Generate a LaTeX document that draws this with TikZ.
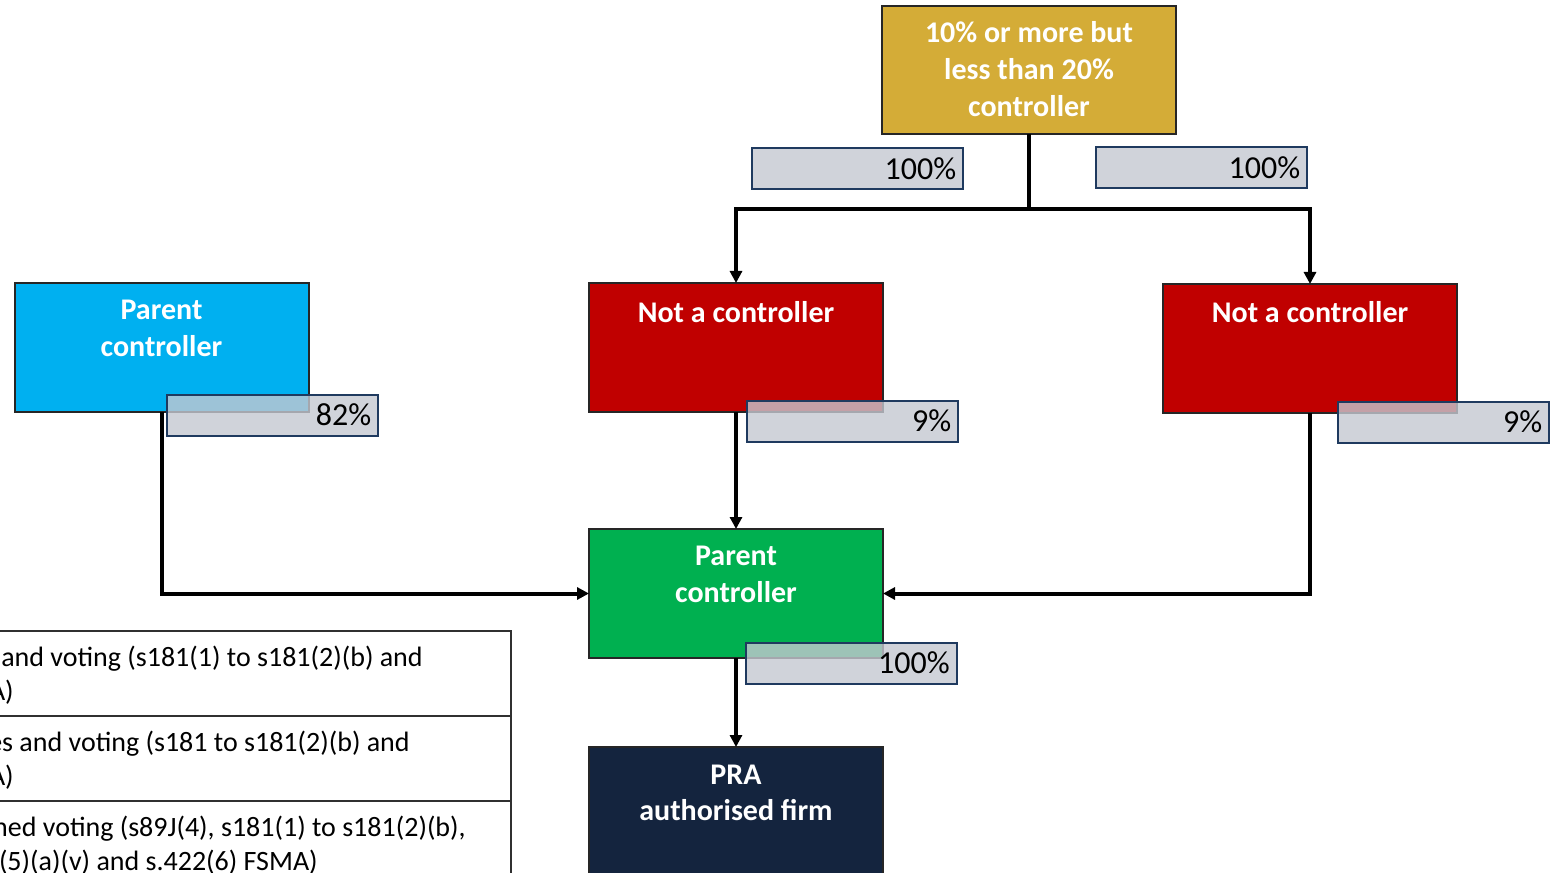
\documentclass[tikz,border=0pt]{standalone}
\usepackage{fontspec}
\setmainfont{Carlito}
\usetikzlibrary{arrows.meta}
\definecolor{goldc}{HTML}{D4AC37}
\definecolor{bluec}{HTML}{00B0F0}
\definecolor{redc}{HTML}{C00000}
\definecolor{greenc}{HTML}{00B050}
\definecolor{navyc}{HTML}{14243E}
\definecolor{pctfill}{HTML}{C5C8D1}
\definecolor{pctline}{HTML}{1F3A5F}
\definecolor{tabline}{HTML}{303030}
\begin{document}
\begin{tikzpicture}[x=0.75pt,y=-0.75pt,
  box/.style={draw=black!85, line width=1.5pt, minimum width=220.5pt, minimum height=96.75pt, inner sep=0pt, outer sep=0pt},
  lbl/.style={text=white, font=\fontsize{22.5}{27.5}\selectfont\bfseries, align=center, inner sep=0pt},
  pct/.style={draw=pctline, line width=1.5pt, fill=pctfill, fill opacity=0.8, text opacity=1, minimum width=158.25pt, minimum height=30.75pt, inner sep=0pt, align=right, text width=148pt, font=\fontsize{24}{28}\selectfont},
  arr/.style={line width=3pt, -{Triangle[length=9pt,width=9pt]}},
  conn/.style={line width=3pt},
  tab/.style={draw=tabline, line width=1.5pt},
  legtxt/.style={anchor=base east, inner sep=0pt, font=\fontsize{21}{25}\selectfont}
]
\clip (0,0) rectangle (1555,873);
\fill[white] (0,0) rectangle (1555,873);

% boxes
\node[box, fill=goldc, minimum height=96pt] (gold) at (1029,70) {};
\node[box, fill=bluec] (blue) at (161.5,347.5) {};
\node[box, fill=redc] (redL) at (736,347.5) {};
\node[box, fill=redc] (redR) at (1310,348.5) {};
\node[box, fill=greenc] (green) at (736,593.5) {};
\node[box, fill=navyc, minimum height=97.5pt] (pra) at (736,812) {};

% box texts
\node[lbl] (tgold) at (1029,69) {10\% or more but\\less than 20\%\\controller};
\node[lbl] (tblue) at (161.5,328.5) {Parent\\controller};
\node[lbl] (tredL) at (736,312) {Not a controller};
\node[lbl] (tredR) at (1310,312) {Not a controller};
\node[lbl] (tgreen) at (736,574.5) {Parent\\controller};
\node[lbl] (tpra) at (736,793) {PRA\\authorised firm};

% connectors
\coordinate (split) at (1029,209);
\draw[conn] (gold.south) -- (split);
\draw[arr] (split) -| (redL.north);
\draw[arr] (split) -| (redR.north);
\draw[arr] (blue.south) |- (green.west);
\draw[arr] (redL.south) -- (green.north);
\draw[arr] (redR.south) |- (green.east);
\draw[arr] (green.south) -- (pra.north);

% percentage boxes
\node[pct] (p1) at (857.5,169) {100\%};
\node[pct] (p2) at (1201.5,167.5) {100\%};
\node[pct] (p82) at (272.5,415) {82\%};
\node[pct] (p9L) at (852.5,421) {9\%};
\node[pct] (p9R) at (1443.5,422) {9\%};
\node[pct] (p100) at (851,663) {100\%};

% legend table
\draw[tab] (-10,631) -- (511,631) -- (511,890);
\draw[tab] (-10,716) -- (511,716);
\draw[tab] (-10,801) -- (511,801);
\node[legtxt] (l1a) at (423,666) {Shares and voting (s181(1) to s181(2)(b) and};
\node[legtxt] (l1b) at (14,700) {FSMA)};
\node[legtxt] (l2a) at (410,751) {Shares and voting (s181 to s181(2)(b) and};
\node[legtxt] (l2b) at (14,785) {FSMA)};
\node[legtxt] (l3a) at (466,836) {Combined voting (s89J(4), s181(1) to s181(2)(b),};
\node[legtxt] (l3b) at (318,870) {s191A(5)(a)(v) and s.422(6) FSMA)};
\end{tikzpicture}
\end{document}
